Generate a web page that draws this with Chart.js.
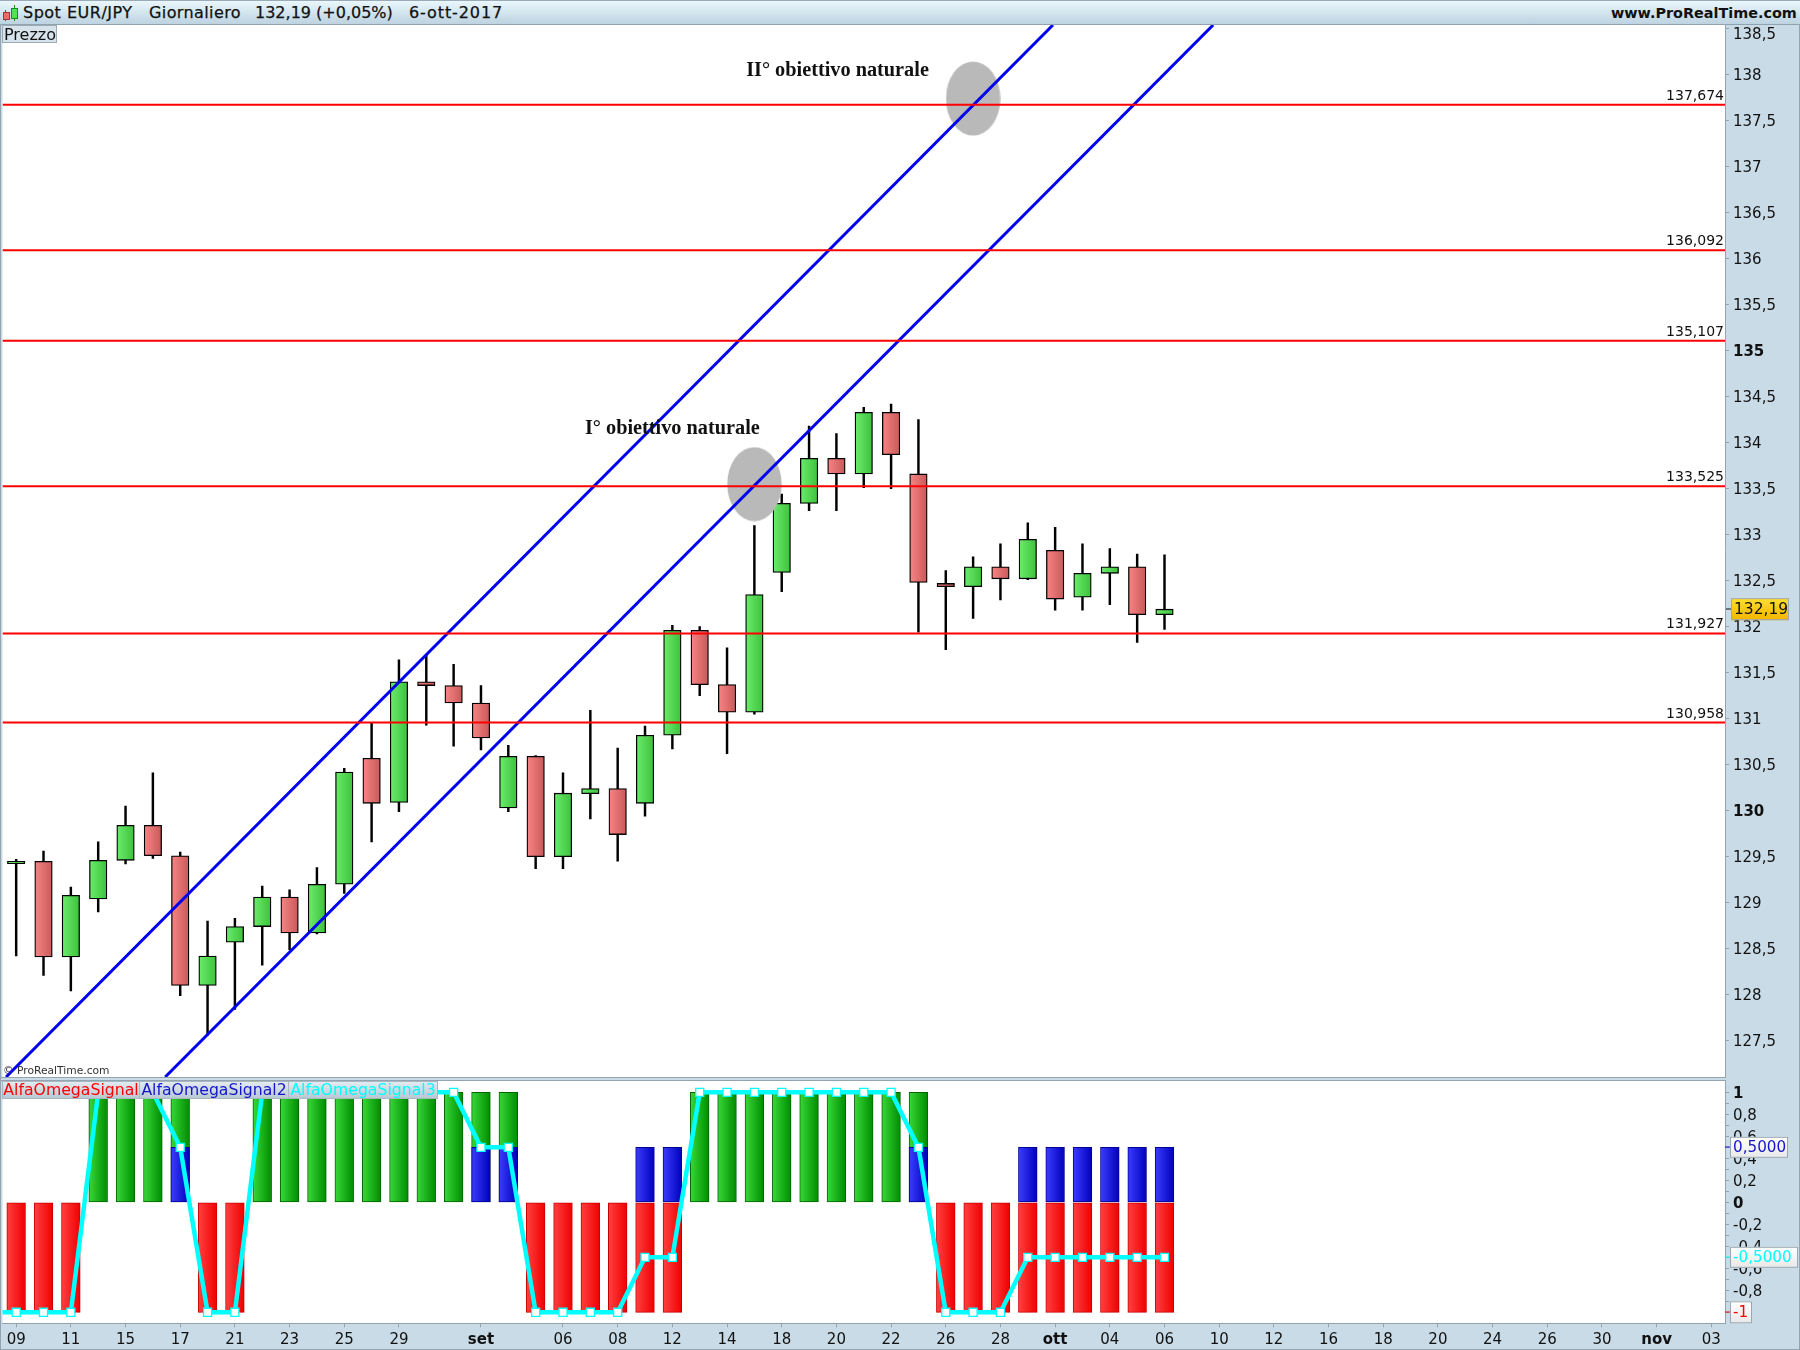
<!DOCTYPE html>
<html>
<head>
<meta charset="utf-8">
<title>Spot EUR/JPY</title>
<script src="https://cdn.jsdelivr.net/npm/chart.js@4"></script>
<style>
    html, body { margin: 0; padding: 0; width: 1800px; height: 1350px; overflow: hidden; background: #c9dbe6; font-family: "DejaVu Sans", sans-serif; color: #111; }
    canvas { position: absolute; left: 0; }
    #priceChart { top: 0; }
    #signalChart { top: 1081px; }
    .abs { position: absolute; white-space: nowrap; }
    #header { position: absolute; left: 0; top: 0; width: 1800px; height: 24px; box-sizing: border-box; border-top: 1px solid #9aabb7; background: linear-gradient(#eaf7fc, #bdd3e0); }
    #headerLine { position: absolute; left: 0; top: 24px; width: 1800px; height: 1px; background: #91a3af; }
    .head { top: 3px; font-size: 16px; line-height: 20px; -webkit-text-stroke: 0.25px #111; }
    #tab { left: 2px; top: 25px; width: 55px; height: 18px; box-sizing: border-box; border: 1px solid #9aabb7; background: #d6e3ea; font-size: 16px; line-height: 17px; padding-left: 1px; }
    #copy { left: 3px; top: 1064px; font-size: 10.7px; line-height: 14px; color: #333; }
    .legend { top: 1081px; height: 18px; box-sizing: border-box; border: 1px solid #a8b7c2; background: linear-gradient(#e2ebf0, #b9c9d3); font-size: 15.7px; line-height: 16px; text-align: center; overflow: hidden; }
    .border { position: absolute; background: #93a4b0; }
</style>
</head>
<body>
<canvas id="priceChart" width="1800" height="1077"></canvas>
<canvas id="signalChart" width="1800" height="269"></canvas>

<div id="header"></div>
<div id="headerLine"></div>
<!-- icona candele -->
<div class="abs" style="left:5px;top:10px;width:1px;height:11px;background:#a33"></div>
<div class="abs" style="left:3px;top:12px;width:5px;height:6px;background:#ee6b6b;border:1px solid #a33"></div>
<div class="abs" style="left:14px;top:5px;width:1px;height:16px;background:#1a8a1a"></div>
<div class="abs" style="left:11px;top:8px;width:5px;height:9px;background:#55e055;border:1px solid #1a8a1a"></div>
<span class="abs head" style="left:23px;letter-spacing:0.5px">Spot EUR/JPY</span>
<span class="abs head" style="left:149px;letter-spacing:0.4px">Giornaliero</span>
<span class="abs head" style="left:255px">132,19 (+0,05%)</span>
<span class="abs head" style="left:409px;letter-spacing:0.9px">6-ott-2017</span>
<span class="abs head" style="left:1611px;font-weight:bold;font-size:14.4px;-webkit-text-stroke:0">www.ProRealTime.com</span>
<div class="abs" id="tab">Prezzo</div>
<div class="abs" id="copy">© ProRealTime.com</div>

<div class="abs legend" style="left:2px;width:138px;color:#f00">AlfaOmegaSignal</div>
<div class="abs legend" style="left:139px;width:150px;color:#1515cc">AlfaOmegaSignal2</div>
<div class="abs legend" style="left:288px;width:150px;color:#0ff">AlfaOmegaSignal3</div>

<div class="border" style="left:0;top:25px;width:1px;height:1325px"></div>
<div class="border" style="left:0;top:1077px;width:1726px;height:1px"></div>
<div class="border" style="left:0;top:1080px;width:1726px;height:1px"></div>
<div class="border" style="left:0;top:1349px;width:1800px;height:1px"></div>
<div class="border" style="left:1799px;top:25px;width:1px;height:1325px"></div>

<script>
// --- Dati prezzo ---
const opens = [129.425, 129.45, 128.41, 129.04, 129.46, 129.84, 129.51, 128.10, 128.57, 128.74, 129.06, 128.67, 129.20, 130.57, 130.09, 131.40, 131.36, 131.17, 130.03, 130.59, 129.50, 130.185, 130.24, 130.08, 130.82, 131.96, 131.37, 131.07, 132.59, 133.34, 133.83, 133.66, 134.33, 133.66, 132.47, 132.435, 132.65, 132.52, 132.83, 132.32, 132.58, 132.65, 132.13];
const highs = [129.47, 129.56, 129.17, 129.66, 130.05, 130.41, 129.55, 128.80, 128.83, 129.18, 129.14, 129.38, 130.46, 130.95, 131.64, 131.70, 131.59, 131.36, 130.71, 130.60, 130.41, 131.09, 130.68, 130.92, 132.015, 132.00, 131.77, 133.10, 133.44, 134.18, 134.10, 134.385, 134.42, 134.25, 132.61, 132.76, 132.90, 133.13, 133.08, 132.90, 132.85, 132.79, 132.78];
const lows = [128.42, 128.21, 128.04, 128.90, 129.42, 129.48, 127.99, 127.56, 127.84, 128.32, 128.49, 128.66, 129.10, 129.66, 129.99, 130.93, 130.70, 130.66, 129.99, 129.37, 129.37, 129.91, 129.45, 129.94, 130.67, 131.25, 130.62, 131.05, 132.38, 133.26, 133.26, 133.51, 133.50, 131.94, 131.75, 132.09, 132.29, 132.51, 132.18, 132.18, 132.24, 131.83, 131.97];
const closes = [129.45, 128.41, 129.08, 129.46, 129.84, 129.51, 128.10, 128.42, 128.74, 129.06, 128.67, 129.20, 130.42, 130.08, 131.40, 131.36, 131.17, 130.79, 130.59, 129.50, 130.19, 130.24, 129.74, 130.82, 131.96, 131.37, 131.07, 132.35, 133.34, 133.83, 133.66, 134.33, 133.87, 132.48, 132.435, 132.65, 132.52, 132.95, 132.30, 132.58, 132.65, 132.13, 132.19];

const levels = [137.674, 136.092, 135.107, 133.525, 131.927, 130.958];
const levelLabels = ['137,674', '136,092', '135,107', '133,525', '131,927', '130,958'];

// canale blu: due estremi per ogni linea
const channelUpperX = [-0.37, 37.92];
const channelUpperY = [127.105, 138.54];
const channelLowerX = [5.45, 43.78];
const channelLowerY = [127.105, 138.54];

// cerchi grigi
const targetX = [27, 35];
const targetY = [133.55, 137.74];

const noteTexts = ['I° obiettivo naturale', 'II° obiettivo naturale'];
const noteX = [24.0, 30.04];
const noteY = [134.155, 138.045];

// --- Dati indicatore ---
const signalRed = [-1, -1, -1, 0, 0, 0, 0, -1, -1, 0, 0, 0, 0, 0, 0, 0, 0, 0, 0, -1, -1, -1, -1, -1, -1, 0, 0, 0, 0, 0, 0, 0, 0, 0, -1, -1, -1, -1, -1, -1, -1, -1, -1];
const signalBlue = [0, 0, 0, 0, 0, 0, 0.5, 0, 0, 0, 0, 0, 0, 0, 0, 0, 0, 0.5, 0.5, 0, 0, 0, 0, 0.5, 0.5, 0, 0, 0, 0, 0, 0, 0, 0, 0.5, 0, 0, 0, 0.5, 0.5, 0.5, 0.5, 0.5, 0.5];
const signalGreen = [0, 0, 0, 1, 1, 1, 1, 0, 0, 1, 1, 1, 1, 1, 1, 1, 1, 1, 1, 0, 0, 0, 0, 0, 0, 1, 1, 1, 1, 1, 1, 1, 1, 1, 0, 0, 0, 0, 0, 0, 0, 0, 0];
const signalLine = [-1, -1, -1, 1, 1, 1, 0.5, -1, -1, 1, 1, 1, 1, 1, 1, 1, 1, 0.5, 0.5, -1, -1, -1, -1, -0.5, -0.5, 1, 1, 1, 1, 1, 1, 1, 1, 0.5, -1, -1, -1, -0.5, -0.5, -0.5, -0.5, -0.5, -0.5];

// etichette asse tempo, una ogni posizione (vuota = niente tacca)
const xTickLabels = ['09', '', '11', '', '15', '', '17', '', '21', '', '23', '', '25', '', '29', '', '', 'set', '', '', '06', '', '08', '', '12', '', '14', '', '18', '', '20', '', '22', '', '26', '', '28', '', 'ott', '', '04', '', '06', '', '10', '', '12', '', '16', '', '18', '', '20', '', '24', '', '26', '', '30', '', 'nov', '', '03'];
const boldMonths = ['set', 'ott', 'nov'];

const AXIS_FONT = '"DejaVu Sans", sans-serif';
const AXIS_LINE = '#93a4b0';
const BODY_W = 17.5;
const SIGNAL_W = 18.7;

Chart.defaults.animation = false;
Chart.defaults.responsive = false;
Chart.defaults.plugins.legend.display = false;
Chart.defaults.plugins.tooltip.enabled = false;

// sfumatura orizzontale della singola barra
const barGradient = (chart, index, width, left, right) => {
    const x = chart.scales.x.getPixelForValue(index);
    if (!Number.isFinite(x)) return left;
    const g = chart.ctx.createLinearGradient(x - width / 2, 0, x + width / 2, 0);
    g.addColorStop(0, left);
    g.addColorStop(1, right);
    return g;
};

const commaNumber = (v) => String(v).replace('.', ',');

// niente margini automatici dalle etichette: l'area del grafico resta fissa
const noPadding = (scale) => {
    scale.paddingTop = 0;
    scale.paddingBottom = 0;
    scale.paddingLeft = 0;
    scale.paddingRight = 0;
};

const drawTag = (ctx, text, x, y, w, h, top, bottom, color) => {
    const g = ctx.createLinearGradient(0, y - h / 2, 0, y + h / 2);
    g.addColorStop(0, top);
    g.addColorStop(1, bottom);
    ctx.fillStyle = g;
    ctx.fillRect(x, y - h / 2, w, h);
    ctx.strokeStyle = '#9aa8b2';
    ctx.lineWidth = 1;
    ctx.strokeRect(x + 0.5, y - h / 2 + 0.5, w - 1, h - 1);
    ctx.fillStyle = color;
    ctx.textAlign = 'left';
    ctx.textBaseline = 'middle';
    ctx.fillText(text, x + 3, y + 1);
    // tacca colorata verso l'asse
    ctx.fillRect(x - 5, Math.round(y) - 0.5, 5, 1);
};

const whitePlot = {
    id: 'whitePlot',
    beforeDraw(chart) {
        const a = chart.chartArea;
        chart.ctx.fillStyle = '#fff';
        chart.ctx.fillRect(a.left, a.top, a.width, a.height);
    }
};

// testi sopra il grafico prezzo
const priceTexts = {
    id: 'priceTexts',
    afterDraw(chart) {
        const ctx = chart.ctx;
        const xs = chart.scales.xl;
        const ys = chart.scales.y;
        ctx.save();
        ctx.fillStyle = '#111';
        ctx.font = '14px ' + AXIS_FONT;
        ctx.textAlign = 'right';
        ctx.textBaseline = 'alphabetic';
        levels.forEach((v, i) => ctx.fillText(levelLabels[i], chart.chartArea.right - 1, ys.getPixelForValue(v) - 5));

        ctx.font = 'bold 20.3px "Liberation Serif", serif';
        ctx.textAlign = 'center';
        ctx.textBaseline = 'middle';
        noteTexts.forEach((t, i) => ctx.fillText(t, xs.getPixelForValue(noteX[i]), ys.getPixelForValue(noteY[i])));

        // 138,5 sta piu in basso per non finire sotto la testata
        ctx.font = '15px ' + AXIS_FONT;
        ctx.textAlign = 'left';
        ctx.fillText('138,5', 1733, 35);

        ctx.font = '15.5px ' + AXIS_FONT;
        drawTag(ctx, '132,19', 1731, ys.getPixelForValue(132.19), 58, 22, '#ffdf30', '#f4b400', '#111');
        ctx.restore();
    }
};

const signalTags = {
    id: 'signalTags',
    afterDraw(chart) {
        const ctx = chart.ctx;
        const ys = chart.scales.y;
        ctx.save();
        ctx.font = '15.2px ' + AXIS_FONT;
        drawTag(ctx, '0,5000', 1730, ys.getPixelForValue(0.5), 58, 21, '#fff', '#e8e8e8', '#1515cc');
        drawTag(ctx, '-0,5000', 1730, ys.getPixelForValue(-0.5), 68, 21, '#fff', '#e8e8e8', '#0ff');
        drawTag(ctx, '-1', 1730, ys.getPixelForValue(-1), 22, 22, '#fff', '#e8e8e8', '#f00');
        ctx.restore();
    }
};

// ellisse grigia usata come simbolo del punto
const ellipseCanvas = document.createElement('canvas');
ellipseCanvas.width = 55;
ellipseCanvas.height = 75;
const ectx = ellipseCanvas.getContext('2d');
ectx.fillStyle = '#b9b9b9';
ectx.beginPath();
ectx.ellipse(27.5, 37.5, 27.2, 37, 0, 0, Math.PI * 2);
ectx.fill();

const isGreen = (i) => closes[i] >= opens[i];

const levelSets = levels.map((v) => ({
    type: 'line', xAxisID: 'xl', order: 1, clip: 0,
    data: [{ x: -0.5, y: v }, { x: 62.5, y: v }],
    borderColor: '#f00', borderWidth: 2, pointRadius: 0
}));

new Chart(document.getElementById('priceChart'), {
    type: 'bar',
    data: {
        labels: xTickLabels,
        datasets: [
            ...levelSets,
            {
                type: 'line', xAxisID: 'xl', order: 2, clip: 0,
                data: channelUpperX.map((x, i) => ({ x, y: channelUpperY[i] })),
                borderColor: '#0000ee', borderWidth: 3, pointRadius: 0
            },
            {
                type: 'line', xAxisID: 'xl', order: 2, clip: 0,
                data: channelLowerX.map((x, i) => ({ x, y: channelLowerY[i] })),
                borderColor: '#0000ee', borderWidth: 3, pointRadius: 0
            },
            {
                type: 'line', xAxisID: 'xl', order: 3, showLine: false,
                data: targetX.map((x, i) => ({ x, y: targetY[i] })),
                pointStyle: ellipseCanvas, pointRadius: 30
            },
            {
                // corpi
                order: 4, grouped: false, barThickness: BODY_W,
                data: opens.map((o, i) => [o, closes[i]]),
                backgroundColor: (c) => c.dataIndex === undefined ? '#000' : (isGreen(c.dataIndex)
                    ? barGradient(c.chart, c.dataIndex, BODY_W, '#6cec6c', '#3cc23c')
                    : barGradient(c.chart, c.dataIndex, BODY_W, '#f88484', '#c85a5a')),
                borderColor: '#000', borderWidth: 1.3, borderSkipped: false
            },
            {
                // stoppini
                order: 5, grouped: false, barThickness: 1.8,
                data: lows.map((l, i) => [l, highs[i]]),
                backgroundColor: '#000', borderWidth: 0
            }
        ]
    },
    options: {
        layout: { autoPadding: false, padding: { top: 25, left: 2.5, right: 0, bottom: 0 } },
        scales: {
            x: { display: false, offset: true },
            xl: { type: 'linear', display: false, offset: false, min: -0.5, max: 62.5 },
            y: {
                position: 'right', min: 127.105, max: 138.54,
                afterFit: (scale) => { scale.width = 75; noPadding(scale); },
                border: { color: AXIS_LINE },
                grid: { drawOnChartArea: false, tickLength: 4, tickColor: AXIS_LINE },
                ticks: {
                    stepSize: 0.5, includeBounds: false, autoSkip: false, padding: 4, labelOffset: 1, color: '#111',
                    font: (c) => ({ family: AXIS_FONT, size: 15, weight: (c.tick && (c.tick.value === 135 || c.tick.value === 130)) ? 'bold' : 'normal' }),
                    callback: (v) => v === 138.5 ? '' : commaNumber(v)
                }
            }
        }
    },
    plugins: [whitePlot, priceTexts]
});

new Chart(document.getElementById('signalChart'), {
    type: 'bar',
    data: {
        labels: xTickLabels,
        datasets: [
            {
                type: 'line', xAxisID: 'xl', order: 1, clip: 0,
                // la linea arriva da prima del bordo sinistro
                data: [{ x: -1, y: signalLine[0] }, ...signalLine.map((y, x) => ({ x, y }))],
                borderColor: '#00ffff', borderWidth: 4.5, tension: 0,
                pointStyle: 'rect', pointRadius: (c) => c.dataIndex === 0 ? 0 : 5.7,
                pointBackgroundColor: '#fff', pointBorderColor: '#00ffff', pointBorderWidth: 1.3
            },
            {
                order: 2, grouped: false, barThickness: SIGNAL_W,
                data: signalBlue.map((v) => v || null),
                backgroundColor: (c) => c.dataIndex === undefined ? '#00f' : barGradient(c.chart, c.dataIndex, SIGNAL_W, '#3c3cff', '#0000bc'),
                borderColor: '#000090', borderWidth: 1, borderSkipped: false
            },
            {
                order: 3, grouped: false, barThickness: SIGNAL_W,
                data: signalGreen.map((v) => v || null),
                backgroundColor: (c) => c.dataIndex === undefined ? '#0a0' : barGradient(c.chart, c.dataIndex, SIGNAL_W, '#38d838', '#008c00'),
                borderColor: '#006400', borderWidth: 1, borderSkipped: false
            },
            {
                order: 4, grouped: false, barThickness: SIGNAL_W,
                data: signalRed.map((v) => v || null),
                backgroundColor: (c) => c.dataIndex === undefined ? '#f00' : barGradient(c.chart, c.dataIndex, SIGNAL_W, '#ff4040', '#f00000'),
                borderColor: '#c80000', borderWidth: 1, borderSkipped: false
            }
        ]
    },
    options: {
        layout: { autoPadding: false, padding: { top: 0, left: 2.5, right: 0, bottom: 0 } },
        scales: {
            x: {
                offset: true,
                afterFit: (scale) => { scale.height = 26.7; noPadding(scale); },
                border: { color: AXIS_LINE },
                grid: {
                    drawOnChartArea: false, tickLength: 4, offset: false,
                    tickColor: (c) => xTickLabels[c.index] ? AXIS_LINE : 'rgba(0,0,0,0)'
                },
                ticks: {
                    autoSkip: false, maxRotation: 0, padding: 4, color: '#111',
                    font: (c) => ({ family: AXIS_FONT, size: 15, weight: boldMonths.includes(xTickLabels[c.index]) ? 'bold' : 'normal' }),
                    callback: (v, i) => xTickLabels[i]
                }
            },
            xl: { type: 'linear', display: false, offset: false, min: -0.5, max: 62.5 },
            y: {
                position: 'right', min: -1.1, max: 1.103,
                afterFit: (scale) => { scale.width = 75; noPadding(scale); },
                border: { color: AXIS_LINE },
                grid: {
                    drawOnChartArea: false, tickLength: 4,
                    tickColor: (c) => Math.abs(c.tick.value) > 1.01 ? 'rgba(0,0,0,0)' : AXIS_LINE
                },
                ticks: {
                    stepSize: 0.1, includeBounds: false, autoSkip: false, padding: 4, labelOffset: 2, color: '#111',
                    font: (c) => ({ family: AXIS_FONT, size: 15, weight: (c.tick && (c.tick.value === 1 || c.tick.value === 0)) ? 'bold' : 'normal' }),
                    callback: (v) => {
                        const tenth = Math.round(v * 10);
                        if (Math.abs(tenth) > 10 || tenth % 2 !== 0) return '';
                        return commaNumber(tenth / 10);
                    }
                }
            }
        }
    },
    plugins: [whitePlot, signalTags]
});
</script>
</body>
</html>
